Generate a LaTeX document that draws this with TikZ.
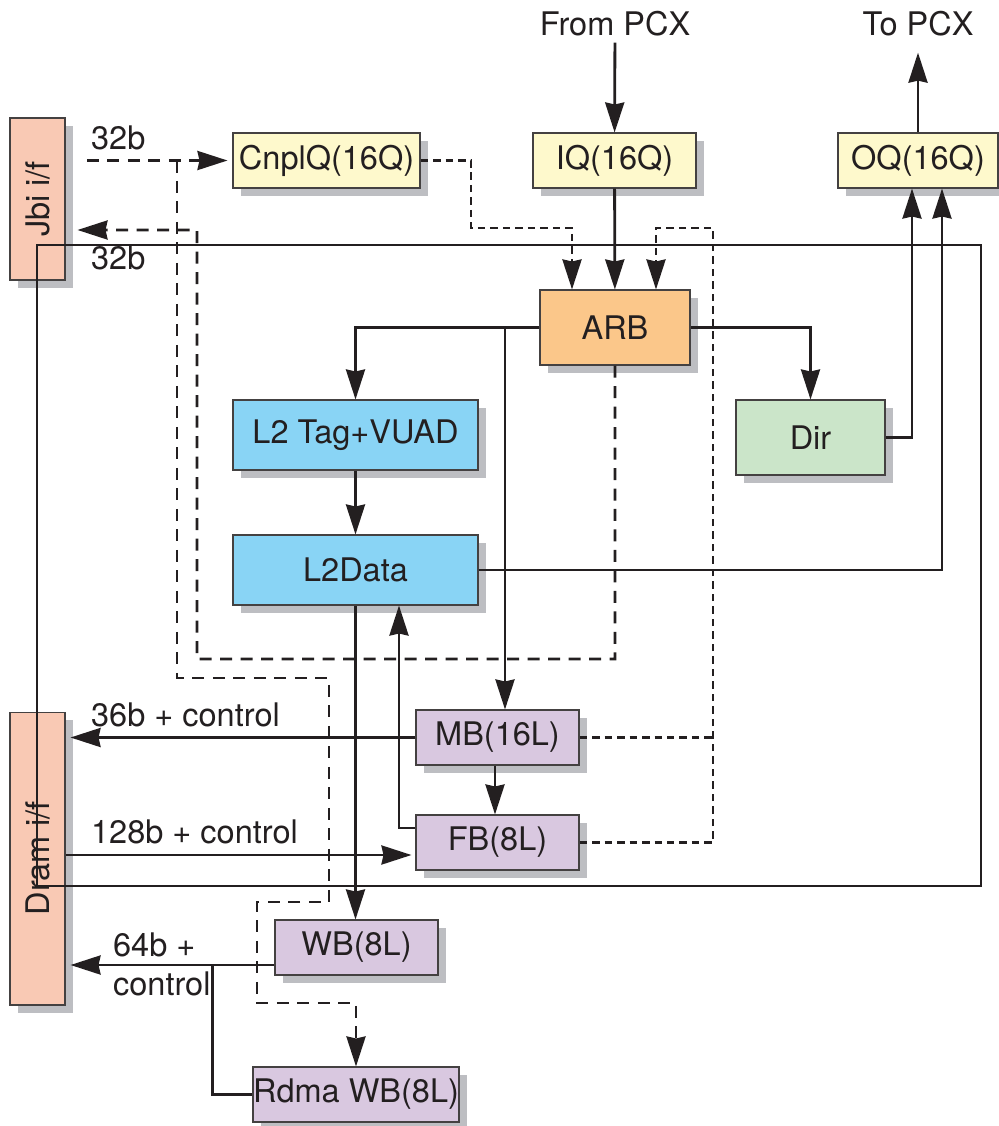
\documentclass[tikz,border=0pt]{standalone}
\usepackage{fontspec}
\setmainfont{TeX Gyre Heros}
\usetikzlibrary{arrows.meta, shadows}

\definecolor{ifsalmon}{RGB}{249,201,180}
\definecolor{qyellow}{RGB}{254,249,204}
\definecolor{arborange}{RGB}{251,199,138}
\definecolor{cacheblue}{RGB}{137,212,245}
\definecolor{dirgreen}{RGB}{203,229,201}
\definecolor{bufpurple}{RGB}{217,200,224}
\definecolor{shadowgray}{RGB}{189,190,194}
\definecolor{inkdark}{RGB}{35,31,32}

\begin{document}
\begin{tikzpicture}[x=0.02cm, y=-0.02cm,
    font=\fontsize{18.5}{22}\selectfont, text=inkdark,
    box/.style={draw=inkdark!85, line width=0.6pt, inner sep=0pt,
                drop shadow={shadow xshift=0.16cm, shadow yshift=-0.16cm, fill=shadowgray, opacity=1}},
    iface/.style={box, fill=ifsalmon, minimum width=1.1cm},
    queue/.style={box, fill=qyellow, minimum height=1.1cm},
    cache/.style={box, fill=cacheblue, minimum width=4.9cm, minimum height=1.4cm},
    buf/.style={box, fill=bufpurple, minimum height=1.1cm},
    lbl/.style={anchor=west, inner sep=1pt},
    conn/.style={draw=inkdark, line width=1.6pt},
    arr/.style={conn, -{Stealth[length=0.6cm, width=0.38cm, inset=0.04cm]}},
    sdash/.style={line width=1.4pt, dash pattern=on 0.15cm off 0.1cm},
    ldash/.style={line width=1.4pt, dash pattern=on 0.24cm off 0.17cm},
    frame/.style={draw=inkdark, line width=0.8pt}]

  \useasboundingbox (0,0) rectangle (999,1126);

  % interfaces
  \node[iface, minimum height=3.24cm] (jbi) at (37.5,199) {\rotatebox{90}{Jbi i/f}};
  \node[iface, minimum height=5.86cm] (dram) at (37.5,858.5) {\rotatebox{90}{Dram i/f}};

  % queues
  \node[queue, minimum width=3.74cm] (cnplq) at (326.5,160.5) {CnplQ(16Q)};
  \node[queue, minimum width=3.26cm] (iq) at (614.5,160.5) {IQ(16Q)};
  \node[queue, minimum width=3.2cm] (oq) at (918,160.5) {OQ(16Q)};

  % pipeline
  \node[box, fill=arborange, minimum width=3cm, minimum height=1.5cm] (arb) at (615,327.5) {ARB};
  \node[cache] (tag) at (355.5,435) {L2 Tag+VUAD};
  \node[cache] (l2data) at (355.5,570) {L2Data};
  \node[box, fill=dirgreen, minimum width=2.98cm, minimum height=1.5cm] (dir) at (810.5,437.5) {Dir};

  % buffers
  \node[buf, minimum width=3.26cm] (mb) at (497.5,737.5) {MB(16L)};
  \node[buf, minimum width=3.26cm] (fb) at (497.5,842.5) {FB(8L)};
  \node[buf, minimum width=3.26cm] (wb) at (356.5,947.5) {WB(8L)};
  \node[buf, minimum width=4.12cm] (rdma) at (356,1094.5) {Rdma WB(8L)};

  % labels
  \node (frompcx) at (615,24) {From PCX};
  \node (topcx) at (918,24) {To PCX};
  \node[lbl] (jbiin) at (89,138) {32b};
  \node[lbl] (jbiout) at (89,258) {32b};
  \node[lbl] (mbbits) at (89,715) {36b + control};
  \node[lbl] (fbbits) at (89,832) {128b + control};
  \node[lbl] (wbbits) at (111,945) {64b +};
  \node[lbl] (wbctl) at (111,984) {control};

  % solid paths
  \draw[arr] (frompcx) -- (iq);
  \draw[arr, shorten >=0.2cm] (oq) -- (topcx);
  \draw[arr] (iq) -- (arb);
  \draw[arr] (arb.west) -| (tag.north);
  \coordinate (mbin) at ([xshift=0.15cm]mb.north);
  \draw[arr] (mbin |- arb.west) -- (mbin);
  \draw[arr] (arb.east) -| (dir.north);
  \draw[arr] (dir.east) -| ([xshift=-0.12cm]oq.south);
  \draw[arr] (l2data.east) -| ([xshift=0.48cm]oq.south);
  \draw[arr] (tag) -- (l2data);
  \draw[arr] (l2data.south) -- (l2data.south |- wb.north);
  \draw[arr] ([yshift=0.29cm]fb.west) -| ([xshift=0.87cm]l2data.south);
  \draw[arr] ([xshift=-0.05cm]mb.south) -- ([xshift=-0.05cm]fb.north);
  \draw[arr, shorten >=0.1cm] (mb.west) -- (mb.west -| dram.east);
  \coordinate (fbin) at ([yshift=-0.25cm]fb.west);
  \draw[arr, shorten >=0.08cm] (fbin -| dram.east) -- (fbin);
  \coordinate (wbout) at ([yshift=-0.35cm]wb.west);
  \draw[arr, shorten >=0.1cm] (wbout) -- (wbout -| dram.east);
  \draw[conn] (rdma.west) -| ([xshift=-1.24cm]wbout);

  % dashed paths
  \draw[sdash, arr] (cnplq.east) -| (471,228) -| ([xshift=-0.86cm]arb.north);
  \draw[sdash, arr] (fb.east) -| (713,228) -| ([xshift=0.82cm]arb.north);
  \draw[sdash, conn] (mb.east) -- (713,737.5);
  \coordinate (jbisrc) at (87,160.5);
  \draw[ldash, arr, shorten >=0.1cm] (jbisrc) -- (cnplq.west);
  \draw[ldash, arr] (177,160.5) -- (177,678) -- (329,678) -- (329,902)
      -- (257,902) -- (257,1003) -| (rdma.north);
  \draw[ldash, arr, shorten >=0.24cm] (arb.south) -- (615,659) -- (197,659)
      -- (197,230) -- ([yshift=-0.62cm]jbi.east);

  % L2 bank outline
  \draw[frame] (37,245) rectangle (981,886);
\end{tikzpicture}
\end{document}
